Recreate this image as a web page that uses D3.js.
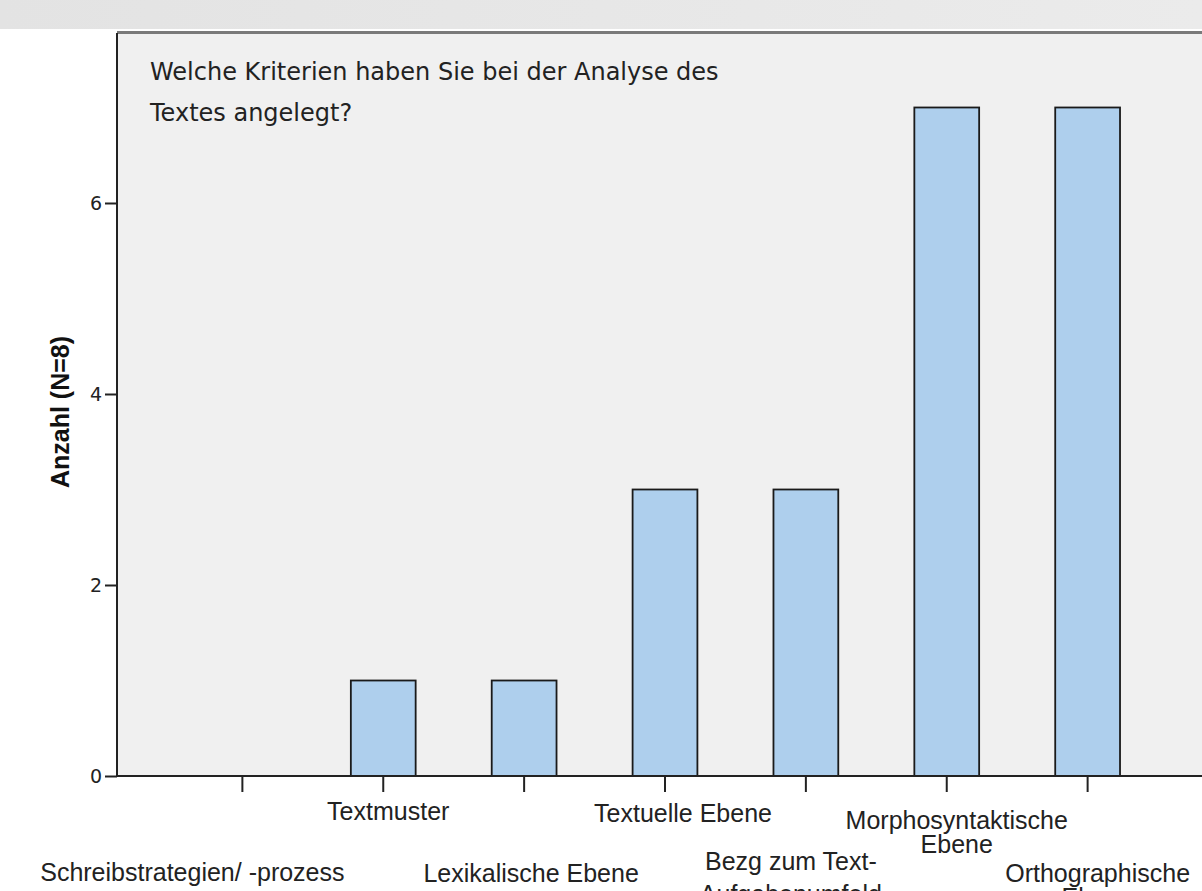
<!DOCTYPE html>
<html><head><meta charset="utf-8">
<script src="https://cdn.jsdelivr.net/npm/d3@7"></script>
<style>html,body{margin:0;padding:0;background:#fff;overflow:hidden}</style>
</head><body>
<script>
const categories = [
  ["Schreibstrategien/ -prozess"],
  ["Textmuster"],
  ["Lexikalische Ebene"],
  ["Textuelle Ebene"],
  ["Bezg zum Text-", "Aufgabenumfeld"],
  ["Morphosyntaktische", "Ebene"],
  ["Orthographische", "Ebene"]
];
const counts = [0, 1, 1, 3, 3, 7, 7];
const yTicks = [0, 2, 4, 6];
const titleLines = ["Welche Kriterien haben Sie bei der Analyse des", "Textes angelegt?"];
const yLabel = "Anzahl (N=8)";

const W = 1202, H = 891;
const plot = {left: 117, top: 33, right: 1213, bottom: 776};
const font = "'Liberation Sans', Arial, sans-serif";
const titleFont = "'DejaVu Sans', Verdana, sans-serif";
// layout of the staggered category labels (horizontal nudge, first baseline, line gap)
const labelNudge = [-50, 5, 7, 18, -15, 10, 10];
const labelBase = [881, 820, 882, 822, 870, 829, 882];
const labelGap = [0, 0, 0, 0, 33, 24, 24];

const svg = d3.select("body").append("svg").attr("width", W).attr("height", H);
const defs = svg.append("defs");
const g = defs.append("linearGradient").attr("id", "topbar").attr("x1", 0).attr("x2", 1);
g.append("stop").attr("offset", 0).attr("stop-color", "#e3e3e3");
g.append("stop").attr("offset", 1).attr("stop-color", "#ebebeb");
svg.append("rect").attr("x", 0).attr("y", 0).attr("width", W).attr("height", 29).attr("fill", "url(#topbar)");

const keys = categories.map(c => c.join(" "));
const x = d3.scaleBand().domain(keys).range([plot.left, plot.right]).paddingInner(0.54).paddingOuter(0.66);
const y = d3.scaleLinear().domain([0, 7.78]).range([plot.bottom, plot.top]);

// plot background
svg.append("rect").attr("x", plot.left).attr("y", plot.top).attr("width", plot.right - plot.left).attr("height", plot.bottom - plot.top).attr("fill", "#f0f0f0");
svg.append("line").attr("x1", plot.left).attr("x2", W).attr("y1", plot.top - 0.5).attr("y2", plot.top - 0.5).attr("stroke", "#7a7a7a").attr("stroke-width", 3);

// title
svg.append("g").selectAll("text").data(titleLines).join("text")
  .attr("x", 150).attr("y", (d, i) => 80 + i * 41)
  .attr("font-family", titleFont).attr("font-size", 24).attr("fill", "#222").text(d => d);

// bars
const barData = counts.map((v, i) => ({k: keys[i], v})).filter(d => d.v > 0);
svg.append("g").selectAll("rect").data(barData)
  .join("rect")
  .attr("x", d => x(d.k)).attr("width", x.bandwidth())
  .attr("y", d => y(d.v)).attr("height", d => y(0) - y(d.v))
  .attr("fill", "#aecfed").attr("stroke", "#1a1a1a").attr("stroke-width", 1.8);

// y axis
const ya = svg.append("g").attr("transform", `translate(${plot.left},0)`)
  .call(d3.axisLeft(y).tickValues(yTicks).tickSize(12).tickPadding(3).tickFormat(d3.format("d")));
ya.select(".domain").attr("stroke", "#222").attr("stroke-width", 2).attr("d", `M0,${plot.top}V${plot.bottom}`);
ya.selectAll(".tick line").attr("stroke", "#222").attr("stroke-width", 2);
ya.selectAll(".tick text").attr("font-family", titleFont).attr("font-size", 19).attr("fill", "#222");

// x axis
const xa = svg.append("g").attr("transform", `translate(0,${plot.bottom})`)
  .call(d3.axisBottom(x).tickSize(16).tickFormat(""));
xa.select(".domain").attr("stroke", "#222").attr("stroke-width", 2).attr("d", `M${plot.left},0H${W}`);
xa.selectAll(".tick line").attr("stroke", "#222").attr("stroke-width", 2);

// category labels, staggered
const lab = svg.append("g");
categories.forEach((lines, i) => {
  const cx = x(keys[i]) + x.bandwidth() / 2 + labelNudge[i];
  const t = lab.append("text").attr("font-family", font).attr("font-size", 25).attr("fill", "#222")
    .attr("text-anchor", "middle");
  lines.forEach((s, j) => t.append("tspan").attr("x", cx).attr("y", labelBase[i] + j * labelGap[i]).text(s));
});

// y label
svg.append("text").attr("transform", `translate(69,412) rotate(-90)`)
  .attr("text-anchor", "middle").attr("font-family", font).attr("font-size", 25)
  .attr("font-weight", "bold").attr("fill", "#111").text(yLabel);
</script>
</body></html>
